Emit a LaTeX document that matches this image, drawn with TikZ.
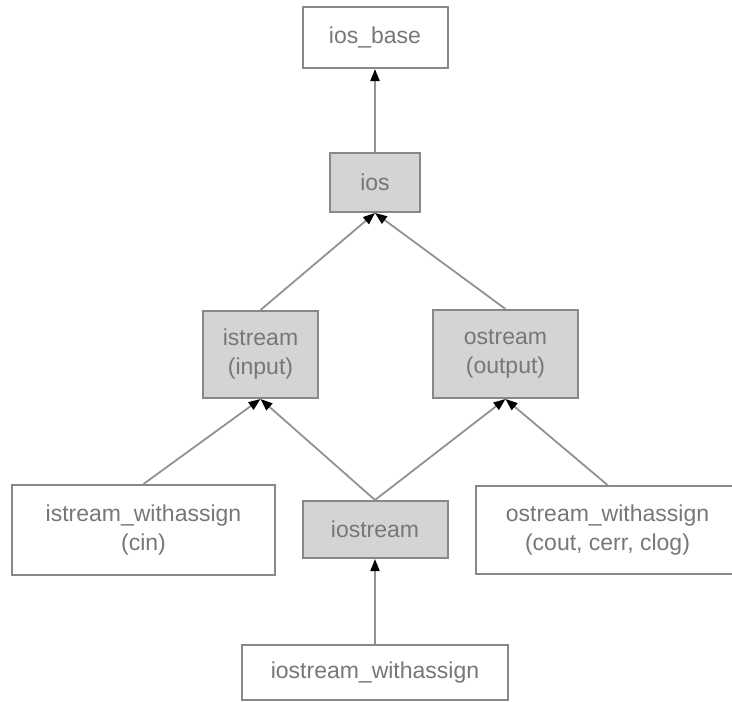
\documentclass[tikz,border=0pt]{standalone}
\usepackage{fontspec}
\setmainfont{Liberation Sans}
\usetikzlibrary{arrows.meta}
\definecolor{boxline}{HTML}{888888}
\definecolor{boxfill}{HTML}{D4D4D4}
\definecolor{txt}{HTML}{777777}
\definecolor{conncol}{HTML}{929292}
\tikzset{
  cls/.style={draw=boxline, line width=2pt, inner sep=0pt, align=center,
    text=txt, font=\fontsize{23}{29}\selectfont},
  whitebox/.style={cls, fill=white},
  graybox/.style={cls, fill=boxfill},
  conn/.style={draw=conncol, line width=1.8pt,
    -{Triangle[length=12pt,width=9pt,color=black,fill=black]}}
}
\begin{document}
\begin{tikzpicture}[x=1pt,y=-1pt]
\clip (0,0) rectangle (732,702);
\fill[white] (0,0) rectangle (732,702);
\node[whitebox, minimum width=145pt, minimum height=61pt] (iosbase) at (375,37.5) {ios\_base};
\node[graybox, minimum width=90pt, minimum height=59pt] (ios) at (375,182.5) {ios};
\node[graybox, minimum width=115pt, minimum height=87pt] (istream) at (260.5,354.5) {istream\\(input)};
\node[graybox, minimum width=145pt, minimum height=88pt] (ostream) at (505.5,354) {ostream\\(output)};
\node[whitebox, minimum width=263pt, minimum height=90pt] (isw) at (143.5,530) {istream\_withassign\\(cin)};
\node[graybox, minimum width=145pt, minimum height=57pt] (iostream) at (375,529.5) {iostream};
\node[whitebox, minimum width=263pt, minimum height=88pt] (osw) at (607.5,530) {ostream\_withassign\\(cout, cerr, clog)};
\node[whitebox, minimum width=266pt, minimum height=55pt] (iosw) at (375,672.5) {iostream\_withassign};
\draw[conn] (ios.north) -- (iosbase.south);
\draw[conn] (istream.north) -- (ios.south);
\draw[conn] (ostream.north) -- (ios.south);
\draw[conn] (isw.north) -- (istream.south);
\draw[conn] (iostream.north) -- (istream.south);
\draw[conn] (iostream.north) -- (ostream.south);
\draw[conn] (osw.north) -- (ostream.south);
\draw[conn] (iosw.north) -- (iostream.south);
\end{tikzpicture}
\end{document}
